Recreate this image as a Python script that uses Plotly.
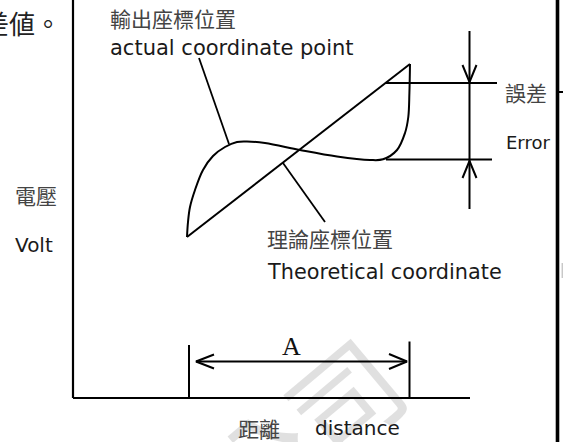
import plotly.graph_objects as go

# ---- diagram data (pixel-like diagram units; y measured downward) ----
# theoretical (straight) coordinate line
theory_x = [187, 410]
theory_y = [237, 64]

# actual output coordinate curve
actual_x = [187, 188, 190, 195, 203, 213, 225, 237, 247, 265, 300, 337, 370, 383, 397, 405, 408.3, 409.4, 410]
actual_y = [237, 222, 207, 190, 170, 156, 147, 142, 141.5, 143, 150, 156.5, 160, 159.3, 150, 133, 117, 93, 64]

# axes
yaxis_line_x = [73, 73]
yaxis_line_y = [0, 398]
xaxis_line_x = [73, 470]
xaxis_line_y = [398, 398]

# leader lines
leader_actual_x = [199, 229]
leader_actual_y = [58, 144]
leader_theory_x = [283, 325]
leader_theory_y = [163, 222]

# error dimension
err_top_x = [386, 497]
err_top_y = [83, 83]
err_bot_x = [386, 492]
err_bot_y = [159.5, 159.5]
err_vert_x = [469.5, 469.5]
err_vert_y = [31, 209]
err_head_top_x = [462.5, 469.5, 476.5]
err_head_top_y = [65, 82, 65]
err_head_bot_x = [462.5, 469.5, 476.5]
err_head_bot_y = [178, 161, 178]

# distance A dimension
a_tick1_x = [189, 189]
a_tick1_y = [345, 398]
a_tick2_x = [409.5, 409.5]
a_tick2_y = [341.5, 398]
a_line_x = [196, 407]
a_line_y = [361.5, 361.5]
a_head_l_x = [214, 196, 214]
a_head_l_y = [354.5, 361.5, 368.5]
a_head_r_x = [389, 407, 389]
a_head_r_y = [354, 361.5, 369]

# page border on the right
border_x = [557.5, 557.5]
border_y = [0, 442]
border_tick_x = [557.5, 563]
border_tick_y = [92, 92]
faint_mark_x = [562.3, 562.3]
faint_mark_y = [263, 278]

fig = go.Figure()


def add_line(xs, ys, width=2.0, color="black", shape="linear"):
    fig.add_trace(go.Scatter(x=xs, y=ys, mode="lines",
                             line=dict(color=color, width=width, shape=shape, smoothing=1.0),
                             hoverinfo="skip", showlegend=False))


add_line(yaxis_line_x, yaxis_line_y, 2.2)
add_line(xaxis_line_x, xaxis_line_y, 2.2)
add_line(theory_x, theory_y, 2.0)
add_line(actual_x, actual_y, 2.0, shape="spline")
add_line(leader_actual_x, leader_actual_y, 1.8)
add_line(leader_theory_x, leader_theory_y, 1.8)
add_line(err_top_x, err_top_y, 2.0)
add_line(err_bot_x, err_bot_y, 2.0)
add_line(err_vert_x, err_vert_y, 2.0)
add_line(err_head_top_x, err_head_top_y, 2.0)
add_line(err_head_bot_x, err_head_bot_y, 2.0)
add_line(a_tick1_x, a_tick1_y, 2.0)
add_line(a_tick2_x, a_tick2_y, 2.0)
add_line(a_line_x, a_line_y, 2.0)
add_line(a_head_l_x, a_head_l_y, 2.0)
add_line(a_head_r_x, a_head_r_y, 2.0)
add_line(border_x, border_y, 3.6)
add_line(border_tick_x, border_tick_y, 2.0)
add_line(faint_mark_x, faint_mark_y, 1.5, color="#c8c8c8")

CJK = "Noto Sans CJK TC"
LAT = "DejaVu Sans"

texts = [
    # text, x, y, size, font, color, xanchor
    ("差値。", 63, 22, 26, CJK, "#222222", "right"),
    ("輸出座標位置", 108, 18, 21, CJK, "#444444", "left"),
    ("actual coordinate point", 108, 48, 21, LAT, "#1a1a1a", "left"),
    ("誤差", 503, 92, 21, CJK, "#444444", "left"),
    ("Error", 504, 142, 18, LAT, "#1a1a1a", "left"),
    ("電壓", 13, 195, 21, CJK, "#444444", "left"),
    ("Volt", 13, 245, 20, LAT, "#1a1a1a", "left"),
    ("理論座標位置", 265, 238, 21, CJK, "#444444", "left"),
    ("Theoretical coordinate", 265, 272, 20.8, LAT, "#1a1a1a", "left"),
    ("A", 291, 346, 26, "Liberation Serif", "#111111", "center"),
    ("距離", 236, 428, 21, CJK, "#444444", "left"),
    ("distance", 313, 428, 20, LAT, "#1a1a1a", "left"),
]

annotations = [
    dict(text="公司", x=300, y=430, xref="x", yref="y", showarrow=False,
         font=dict(size=110, family=CJK, color="rgba(0,0,0,0.12)"), textangle=-40,
         xanchor="center", yanchor="middle")
]
for t, x, y, s, f, c, xa in texts:
    annotations.append(dict(text=t, x=x, y=y, xref="x", yref="y", showarrow=False,
                            font=dict(size=s, family=f, color=c),
                            xanchor=xa, yanchor="middle"))

fig.update_layout(
    width=563, height=442,
    margin=dict(l=0, r=0, t=0, b=0),
    paper_bgcolor="white", plot_bgcolor="white",
    xaxis=dict(range=[0, 563], visible=False, fixedrange=True),
    yaxis=dict(range=[442, 0], visible=False, fixedrange=True),
    annotations=annotations,
    showlegend=False,
)

fig.write_html(
    "out.html",
    config={"displayModeBar": False},
    post_script="document.body.style.margin='0';document.body.style.overflow='hidden';",
)
